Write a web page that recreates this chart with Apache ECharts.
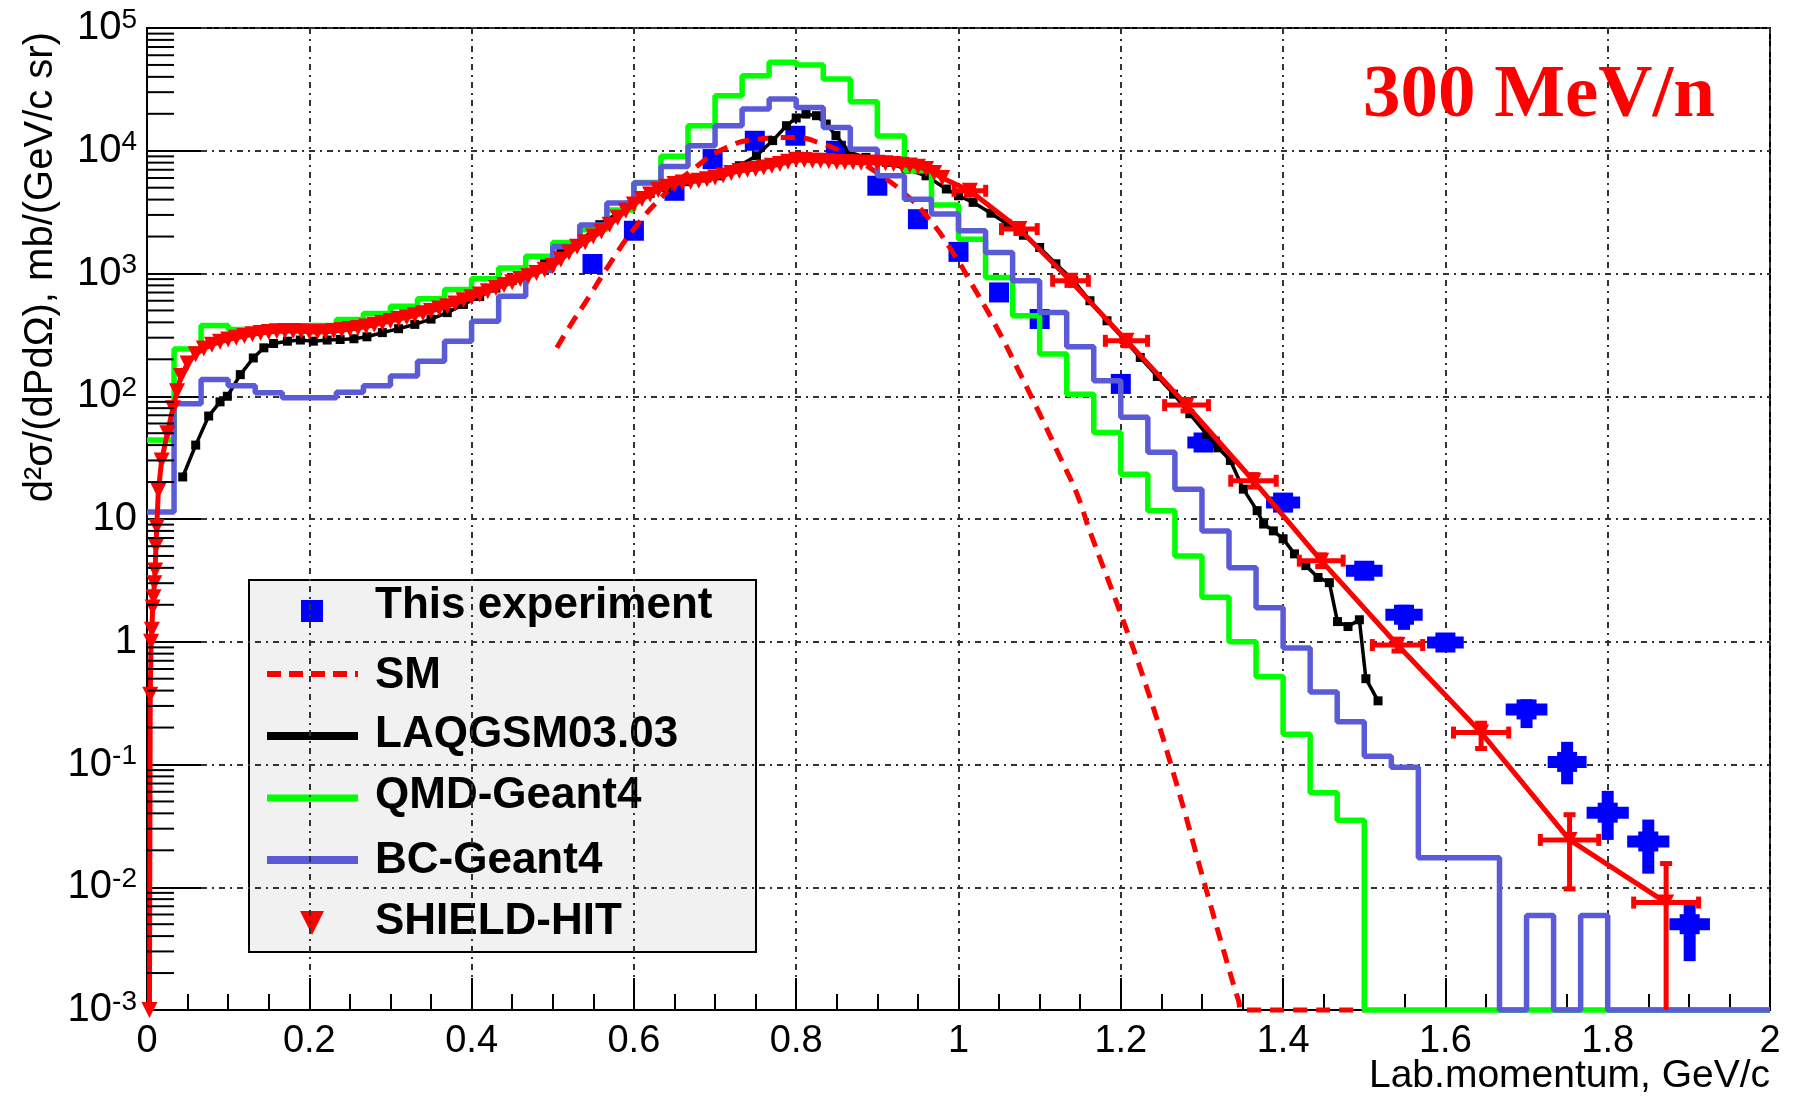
<!DOCTYPE html>
<html>
<head>
<meta charset="utf-8">
<script src="https://cdn.jsdelivr.net/npm/echarts@6/dist/echarts.min.js"></script>
<style>
html,body{margin:0;padding:0;background:#ffffff;}
#chart{width:1796px;height:1097px;}
</style>
</head>
<body>
<div id="chart"></div>
<script>
// ---------------- DATA ----------------
// histogram bin width (GeV/c) for the Geant4 histograms (60 bins over 0..2)
const binWidth = 1 / 30;
// QMD-Geant4 bin contents (0.001 = empty bin drawn on the floor)
const qmdBins = [44, 243, 377, 350, 340, 360, 377, 422, 472, 542,
  622, 741, 906, 1110, 1380, 1790, 2270, 3290, 5520, 9000,
  16000, 28100, 40800, 52500, 49900, 38400, 25100, 13200, 6870, 3620,
  1905, 929, 453, 221, 104, 50.7, 23.2, 11.7, 5.0, 2.3,
  1.0, 0.52, 0.176, 0.059, 0.0352, 0.001, 0.001, 0.001, 0.001, 0.001,
  0.001, 0.001, 0.001, 0.001, 0.001, 0.001, 0.001, 0.001, 0.001, 0.001];
// BC-Geant4 bin contents
const bcBins = [11.4, 87, 137, 122, 107, 97, 97, 108, 122, 146,
  193, 281, 409, 653, 1060, 1660, 2480, 3750, 5450, 7450,
  11000, 16000, 21900, 26400, 22500, 15500, 10300, 6250, 4030, 3050,
  2230, 1485, 873, 482, 253, 134, 67.3, 34.9, 17.5, 8.0,
  4.0, 1.89, 0.89, 0.39, 0.223, 0.117, 0.095, 0.0174, 0.0174, 0.0174,
  0.001, 0.0059, 0.001, 0.0059, 0.001, 0.001, 0.001, 0.001, 0.001, 0.001];

// This experiment
const expX = [0.549, 0.6, 0.65, 0.697, 0.749, 0.799, 0.849, 0.9, 0.95, 1.0, 1.05, 1.1, 1.2,
  1.302, 1.4, 1.5, 1.549, 1.6, 1.7, 1.75, 1.8, 1.85, 1.901];
const expY = [1195, 2230, 4720, 8550, 12060, 13250, 10000, 5190, 2770, 1500, 701, 426, 126,
  42, 13.6, 3.79, 1.66, 0.986, 0.281, 0.105, 0.0405, 0.0236, 0.005];
const expXErr = [0, 0, 0, 0, 0, 0, 0, 0, 0, 0, 0, 0, 0,
  0.02, 0.021, 0.0226, 0.023, 0.0226, 0.0257, 0.024, 0.026, 0.026, 0.025];
const expYLow = [1195, 2230, 4720, 8550, 12060, 13250, 10000, 5190, 2770, 1500, 701, 426, 126,
  38, 12.4, 3.4, 1.25, 0.9, 0.198, 0.069, 0.0243, 0.0129, 0.0025];
const expYHigh = [1195, 2230, 4720, 8550, 12060, 13250, 10000, 5190, 2770, 1500, 701, 426, 126,
  47, 15, 4.2, 2.0, 1.08, 0.34, 0.153, 0.061, 0.0356, 0.0078];

// SM
const smX = [0.505, 0.52, 0.545, 0.566, 0.6, 0.636, 0.673, 0.714, 0.755, 0.796, 0.833, 0.866,
  0.899, 0.932, 0.964, 0.997, 1.014, 1.047, 1.076, 1.1, 1.125, 1.146, 1.162, 1.198, 1.234,
  1.267, 1.304, 1.329, 1.345, 1.35, 1.5];
const smY = [248, 363, 650, 1086, 2300, 4300, 7080, 10640, 12450, 12850, 11330, 9100,
  6660, 4570, 2770, 1350, 871, 363, 152, 72, 32, 16, 7.9, 1.83, 0.384,
  0.076, 0.0102, 0.0027, 0.0012, 0.001, 0.001];

// LAQGSM03.03
const laqX = [0.044, 0.06, 0.076, 0.09, 0.099, 0.115, 0.131, 0.144, 0.156, 0.173, 0.189, 0.205,
  0.222, 0.238, 0.255, 0.271, 0.29, 0.31, 0.33, 0.35, 0.37, 0.39, 0.41, 0.43, 0.45, 0.47,
  0.49, 0.51, 0.53, 0.558, 0.595, 0.62, 0.64, 0.665, 0.69, 0.706, 0.73, 0.751, 0.771, 0.788,
  0.8, 0.812, 0.825, 0.837, 0.849, 0.866, 0.886, 0.911, 0.936, 0.96, 0.985, 1.0, 1.018, 1.04,
  1.06, 1.08, 1.1, 1.12, 1.142, 1.162, 1.183, 1.204, 1.224, 1.245, 1.265, 1.285, 1.306, 1.32,
  1.335, 1.351, 1.368, 1.376, 1.388, 1.4, 1.414, 1.428, 1.443, 1.457, 1.467, 1.48, 1.494,
  1.502, 1.517];
const laqY = [22, 40, 69, 90, 100, 150, 205, 248, 269, 281, 287, 281,
  287, 290, 294, 305, 330, 355, 385, 425, 480, 560, 650, 760, 880, 1020,
  1200, 1450, 1750, 2500, 3600, 4500, 5000, 5600, 6000, 6250, 7550, 9100, 12100, 16000,
  18500, 19900, 19300, 16500, 13300, 9690, 8830, 8040, 7080, 6250, 4880, 4300, 3800, 3100,
  2530, 2050, 1630, 1200, 873, 600, 412, 290, 207, 145, 104, 72, 49, 38,
  30, 17.5, 11.7, 9.1, 8.0, 6.9, 5.2, 4.17, 3.34, 3.03, 1.46, 1.33, 1.51,
  0.5, 0.33];

// SHIELD-HIT
const shieldX = [0.003, 0.004, 0.005, 0.006, 0.007, 0.008, 0.009, 0.010, 0.011, 0.012, 0.014,
  0.018, 0.025, 0.032, 0.037, 0.042, 0.05, 0.06, 0.07, 0.08, 0.09,
  0.10, 0.11, 0.12, 0.13, 0.14, 0.15, 0.16, 0.17, 0.18, 0.19,
  0.20, 0.21, 0.22, 0.23, 0.24, 0.25, 0.26, 0.27, 0.28, 0.29,
  0.30, 0.31, 0.32, 0.33, 0.34, 0.35, 0.36, 0.37, 0.38, 0.39,
  0.40, 0.41, 0.42, 0.43, 0.44, 0.45, 0.46, 0.47, 0.48, 0.49,
  0.50, 0.51, 0.52, 0.53, 0.54, 0.55, 0.56, 0.57, 0.58, 0.59,
  0.60, 0.61, 0.62, 0.63, 0.64, 0.65, 0.66, 0.67, 0.68, 0.69,
  0.70, 0.71, 0.72, 0.73, 0.74, 0.75, 0.76, 0.77, 0.78, 0.79,
  0.80, 0.81, 0.82, 0.83, 0.84, 0.85, 0.86, 0.87, 0.88, 0.89,
  0.90, 0.91, 0.92, 0.93, 0.94, 0.95, 0.96, 0.97, 0.98,
  1.014, 1.075, 1.138, 1.207, 1.281, 1.3635, 1.447, 1.541, 1.644, 1.753, 1.872];
const shieldY = [0.001, 0.37, 1.0, 1.25, 1.9, 2.3, 3.0, 3.8, 6.0, 8.6, 17,
  30, 50, 80, 110, 146, 185, 220, 245, 263, 278,
  290, 300, 310, 320, 328, 333, 338, 340, 340, 338,
  335, 333, 336, 340, 346, 353, 360, 370, 382, 396,
  410, 425, 440, 456, 475, 495, 518, 542, 570, 605,
  640, 675, 718, 762, 805, 850, 900, 950, 1010, 1075,
  1150, 1300, 1480, 1650, 1800, 2000, 2200, 2500, 2850, 3250,
  3650, 4050, 4400, 4800, 5100, 5350, 5500, 5600, 5700, 5850,
  6050, 6300, 6600, 6850, 7000, 7100, 7300, 7550, 7800, 8150,
  8450, 8400, 8300, 8300, 8200, 8100, 8050, 8050, 8000, 8000,
  8000, 7900, 7800, 7700, 7600, 7400, 7100, 6600, 6000,
  4720, 2300, 873, 283, 84.7, 20.5, 4.58, 0.94, 0.182, 0.0243, 0.0075];
// SHIELD-HIT points drawn with error bars
const shieldBarX = [1.014, 1.075, 1.138, 1.207, 1.281, 1.3635, 1.447, 1.541, 1.644, 1.753, 1.872];
const shieldBarY = [4720, 2300, 873, 283, 84.7, 20.5, 4.58, 0.94, 0.182, 0.0243, 0.0075];
const shieldBarXErr = [0.0195, 0.022, 0.022, 0.026, 0.027, 0.028, 0.027, 0.031, 0.034, 0.036, 0.04];
const shieldBarYLow = [4350, 2120, 800, 258, 76, 18.2, 4.1, 0.84, 0.135, 0.0097, 0.001];
const shieldBarYHigh = [5100, 2500, 950, 310, 94, 23, 5.1, 1.05, 0.217, 0.039, 0.0156];

// ---------------- BUILD ----------------
const FONT = 'Liberation Sans';
function histData(bins) {
  const d = bins.map((v, i) => [i * binWidth, v]);
  d.push([bins.length * binWidth, bins[bins.length - 1]]);
  return d;
}
function zip(xs, ys) { return xs.map((x, i) => [x, ys[i]]); }

const expErrData = expX.map((x, i) => [x, expY[i], expXErr[i], expYLow[i], expYHigh[i]]);
const shieldErrData = shieldBarX.map((x, i) => [x, shieldBarY[i], shieldBarXErr[i], shieldBarYLow[i], shieldBarYHigh[i]]);

// log-axis minor tick values (2..9 x decade)
const yMinorTicks = [];
for (let e = -3; e <= 4; e++) for (let m = 2; m <= 9; m++) yMinorTicks.push([0, m * Math.pow(10, e)]);

function errorRenderer(color, lw, cap) {
  return function (params, api) {
    const x = api.value(0), y = api.value(1), xe = api.value(2), lo = api.value(3), hi = api.value(4);
    const c = api.coord([x, y]);
    const l = api.coord([x - xe, y]);
    const r = api.coord([x + xe, y]);
    const b = api.coord([x, lo]);
    const t = api.coord([x, hi]);
    const st = { stroke: color, lineWidth: lw };
    const ch = [];
    if (xe > 0) ch.push({ type: 'line', shape: { x1: l[0], y1: c[1], x2: r[0], y2: c[1] }, style: st });
    if (hi > lo) ch.push({ type: 'line', shape: { x1: c[0], y1: b[1], x2: c[0], y2: t[1] }, style: st });
    if (cap) {
      if (xe > 0) {
        ch.push({ type: 'line', shape: { x1: l[0], y1: c[1] - cap, x2: l[0], y2: c[1] + cap }, style: st });
        ch.push({ type: 'line', shape: { x1: r[0], y1: c[1] - cap, x2: r[0], y2: c[1] + cap }, style: st });
      }
      if (hi > lo) {
        ch.push({ type: 'line', shape: { x1: c[0] - cap, y1: t[1], x2: c[0] + cap, y2: t[1] }, style: st });
        if (lo > 0.001) ch.push({ type: 'line', shape: { x1: c[0] - cap, y1: b[1], x2: c[0] + cap, y2: b[1] }, style: st });
      }
    }
    return { type: 'group', children: ch };
  };
}

const chart = echarts.init(document.getElementById('chart'), null, { renderer: 'canvas' });

const legendLeft = 249, legendTop = 580;
const option = {
  animation: false,
  backgroundColor: '#ffffff',
  grid: { left: 147, right: 26, top: 28, bottom: 87, show: true, borderColor: '#000', borderWidth: 2, backgroundColor: 'transparent' },
  xAxis: {
    type: 'value', min: 0, max: 2, interval: 0.2,
    axisLine: { show: true, lineStyle: { color: '#000', width: 2 } },
    axisTick: { show: true, inside: true, length: 32, lineStyle: { color: '#000', width: 2 } },
    minorTick: { show: true, splitNumber: 4, length: 16, lineStyle: { color: '#000', width: 2 } },
    axisLabel: { margin: 13, color: '#000', fontFamily: FONT, fontSize: 38 },
    splitLine: { show: true, lineStyle: { color: '#333', width: 2, type: [6, 5, 2, 5] } }
  },
  yAxis: {
    type: 'log', logBase: 10, min: 0.001, max: 100000, interval: 1, splitNumber: 8,
    axisLine: { show: true, lineStyle: { color: '#000', width: 2 } },
    axisTick: { show: true, inside: true, length: 54, lineStyle: { color: '#000', width: 2 } },
    minorTick: { show: false },
    axisLabel: {
      margin: 10, color: '#000', fontFamily: FONT, fontSize: 40,
      formatter: function (v) {
        const e = Math.round(Math.log10(v));
        if (e === 0) return '{b|1}';
        if (e === 1) return '{b|10}';
        return '{b|10}{s|' + e + '}';
      },
      rich: {
        b: { fontSize: 40, fontFamily: FONT, color: '#000', lineHeight: 44 },
        s: { fontSize: 28, fontFamily: FONT, color: '#000', verticalAlign: 'top', lineHeight: 28 }
      }
    },
    splitLine: { show: true, lineStyle: { color: '#333', width: 2, type: [6, 5, 2, 5] } }
  },
  series: [
    {
      name: 'This experiment errors', type: 'custom', silent: true,
      renderItem: errorRenderer('#0000ff', 12, 0),
      encode: { x: 0, y: 1 }, data: expErrData, z: 2
    },
    {
      name: 'This experiment', type: 'scatter', symbol: 'rect', symbolSize: 20,
      itemStyle: { color: '#0000ff', opacity: 1 }, data: zip(expX, expY), z: 2
    },
    {
      name: 'SM', type: 'line', smooth: true, symbol: 'none', clip: false,
      lineStyle: { color: '#ff0000', width: 5, type: [14, 9] },
      data: zip(smX, smY), z: 3
    },
    {
      name: 'LAQGSM03.03', type: 'line', symbol: 'rect', symbolSize: 9,
      itemStyle: { color: '#000', opacity: 1 }, lineStyle: { color: '#000', width: 3.5 },
      data: zip(laqX, laqY), z: 4
    },
    {
      name: 'QMD-Geant4', type: 'line', step: 'end', symbol: 'none', clip: false,
      lineStyle: { color: '#00ff00', width: 5.5 }, data: histData(qmdBins), z: 5
    },
    {
      name: 'BC-Geant4', type: 'line', step: 'end', symbol: 'none', clip: false,
      lineStyle: { color: '#5b5bd7', width: 5.5 }, data: histData(bcBins), z: 6
    },
    {
      name: 'SHIELD-HIT', type: 'line', symbol: 'triangle', symbolRotate: 180, symbolSize: 16,
      itemStyle: { color: '#ff0000', opacity: 1 }, lineStyle: { color: '#ff0000', width: 5 },
      data: zip(shieldX, shieldY), z: 7
    },
    {
      name: 'SHIELD-HIT errors', type: 'custom', silent: true,
      renderItem: errorRenderer('#ff0000', 5, 6),
      encode: { x: 0, y: 1 }, data: shieldErrData, z: 7
    },
    {
      name: 'y minor ticks', type: 'custom', silent: true,
      renderItem: function (params, api) {
        const p = api.coord([api.value(0), api.value(1)]);
        return { type: 'line', shape: { x1: p[0], y1: p[1], x2: p[0] + 27, y2: p[1] }, style: { stroke: '#000', lineWidth: 2 } };
      },
      encode: { x: 0, y: 1 }, data: yMinorTicks, z: 10
    }
  ],
  graphic: [
    // y-axis title
    { type: 'text', x: 41, y: 32, rotation: Math.PI / 2, z: 100,
      style: { text: 'd²σ/(dPdΩ), mb/(GeV/c sr)', font: '40px "Liberation Sans"', fill: '#000', align: 'right', verticalAlign: 'middle' } },
    // x-axis title
    { type: 'text', x: 1770, y: 1076, z: 100,
      style: { text: 'Lab.momentum, GeV/c', font: '39px "Liberation Sans"', fill: '#000', align: 'right', verticalAlign: 'middle' } },
    // energy label
    { type: 'text', x: 1363, y: 97, z: 100,
      style: { text: '300 MeV/n', font: 'bold 75px "Liberation Serif"', fill: '#ff0000', align: 'left', verticalAlign: 'middle' } },
    // legend box
    { type: 'group', z: 100, children: [
      { type: 'rect', shape: { x: legendLeft, y: legendTop, width: 507, height: 372 }, style: { fill: '#f1f1f1', stroke: '#000', lineWidth: 2 } },
      { type: 'rect', shape: { x: 301, y: 600, width: 22, height: 22 }, style: { fill: '#0000ff' } },
      { type: 'line', shape: { x1: 267, y1: 674, x2: 358, y2: 674 }, style: { stroke: '#ff0000', lineWidth: 6, lineDash: [14, 8] } },
      { type: 'line', shape: { x1: 267, y1: 736, x2: 358, y2: 736 }, style: { stroke: '#000000', lineWidth: 8 } },
      { type: 'line', shape: { x1: 267, y1: 798, x2: 358, y2: 798 }, style: { stroke: '#00ff00', lineWidth: 7 } },
      { type: 'line', shape: { x1: 267, y1: 860, x2: 358, y2: 860 }, style: { stroke: '#5b5bd7', lineWidth: 8 } },
      { type: 'polygon', shape: { points: [[300, 911], [324, 911], [312, 935]] }, style: { fill: '#ff0000' } },
      { type: 'text', x: 375, y: 606, style: { text: 'This experiment', font: 'bold 44px "Liberation Sans"', fill: '#000', verticalAlign: 'middle' } },
      { type: 'text', x: 375, y: 676, style: { text: 'SM', font: 'bold 44px "Liberation Sans"', fill: '#000', verticalAlign: 'middle' } },
      { type: 'text', x: 375, y: 735, style: { text: 'LAQGSM03.03', font: 'bold 44px "Liberation Sans"', fill: '#000', verticalAlign: 'middle' } },
      { type: 'text', x: 375, y: 796, style: { text: 'QMD-Geant4', font: 'bold 44px "Liberation Sans"', fill: '#000', verticalAlign: 'middle' } },
      { type: 'text', x: 375, y: 861, style: { text: 'BC-Geant4', font: 'bold 44px "Liberation Sans"', fill: '#000', verticalAlign: 'middle' } },
      { type: 'text', x: 375, y: 922, style: { text: 'SHIELD-HIT', font: 'bold 44px "Liberation Sans"', fill: '#000', verticalAlign: 'middle' } }
    ] }
  ]
};
chart.setOption(option);
</script>
</body>
</html>
